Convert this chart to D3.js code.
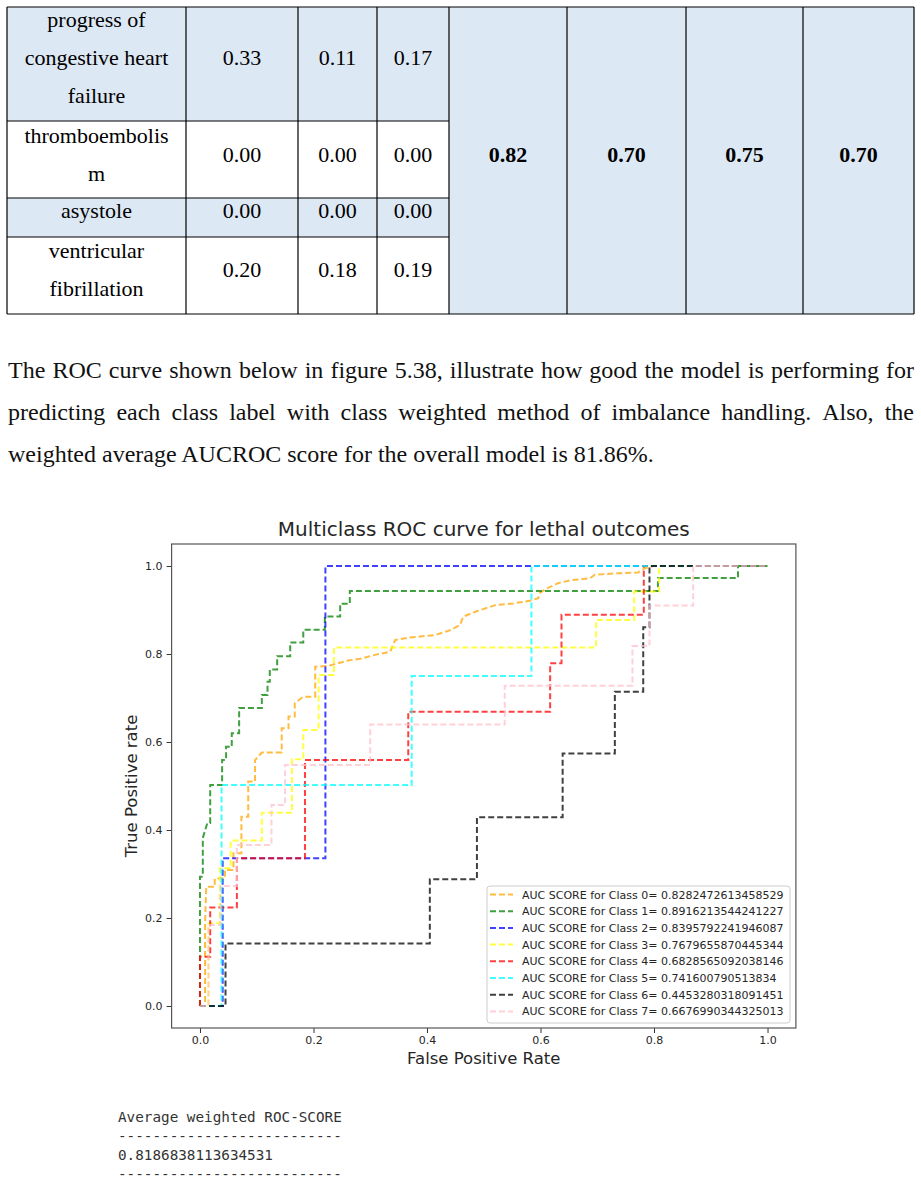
<!DOCTYPE html>
<html lang="en">
<head>
<meta charset="utf-8">
<title>Multiclass ROC curve</title>
<script src="https://cdn.jsdelivr.net/npm/d3@7"></script>
<style>
  body { margin: 0; background: #fff; }
  svg { display: block; }
  .serif { font-family: "Liberation Serif", "Times New Roman", serif; }
  .mpl { font-family: "DejaVu Sans", sans-serif; fill: #262626; }
  .mono { font-family: "DejaVu Sans Mono", "Liberation Mono", monospace; fill: #333; }
</style>
</head>
<body>
<div id="page"></div>
<script>
// ---- table data (per-class precision / recall / f1, then overall scores)
var tableLabels = [["progress of", "congestive heart", "failure"], ["thromboembolis", "m"], ["asystole"], ["ventricular", "fibrillation"]];
var precision = [0.33, 0.00, 0.00, 0.20];
var recall    = [0.11, 0.00, 0.00, 0.18];
var f1score   = [0.17, 0.00, 0.00, 0.19];
var overall   = [0.82, 0.70, 0.75, 0.70];

var paragraph = [
  "The ROC curve shown below in figure 5.38, illustrate how good the model is performing for",
  "predicting each class label with class weighted method of imbalance handling. Also, the",
  "weighted average AUCROC score for the overall model is 81.86%."
];

// ---- ROC data, [fpr, tpr]
var roc0 = [[0,0],[0.009,0],[0.009,0.19],[0.011,0.271],[0.026,0.271],[0.026,0.29],[0.044,0.29],[0.044,0.309],[0.059,0.309],[0.059,0.347],[0.073,0.347],[0.073,0.43],[0.085,0.43],[0.085,0.51],[0.097,0.51],[0.097,0.559],[0.109,0.576],[0.144,0.576],[0.144,0.631],[0.156,0.631],[0.156,0.658],[0.167,0.658],[0.167,0.688],[0.182,0.703],[0.203,0.703],[0.203,0.771],[0.226,0.773],[0.261,0.785],[0.285,0.79],[0.308,0.798],[0.335,0.805],[0.344,0.832],[0.367,0.837],[0.414,0.843],[0.443,0.855],[0.458,0.866],[0.464,0.885],[0.485,0.896],[0.52,0.911],[0.552,0.915],[0.581,0.921],[0.596,0.927],[0.599,0.939],[0.611,0.949],[0.631,0.961],[0.655,0.968],[0.687,0.972],[0.696,0.98],[0.728,0.983],[0.772,0.985],[0.784,0.995],[0.80,1],[1,1]];
var roc1 = [[0,0],[0,0.294],[0.005,0.294],[0.005,0.382],[0.013,0.416],[0.018,0.416],[0.018,0.502],[0.039,0.502],[0.039,0.559],[0.046,0.559],[0.046,0.589],[0.056,0.589],[0.056,0.62],[0.069,0.62],[0.069,0.677],[0.109,0.677],[0.109,0.707],[0.119,0.707],[0.119,0.737],[0.123,0.737],[0.123,0.765],[0.136,0.765],[0.136,0.795],[0.159,0.795],[0.159,0.826],[0.182,0.826],[0.182,0.855],[0.22,0.855],[0.22,0.885],[0.247,0.885],[0.247,0.914],[0.264,0.914],[0.264,0.943],[0.807,0.943],[0.807,0.973],[0.948,0.973],[0.948,1],[1,1]];
var roc2 = [[0,0],[0.04,0],[0.04,0.336],[0.221,0.336],[0.221,1],[1,1]];
var roc3 = [[0,0],[0.015,0],[0.015,0.188],[0.035,0.188],[0.035,0.313],[0.054,0.313],[0.054,0.376],[0.109,0.376],[0.109,0.439],[0.162,0.439],[0.162,0.561],[0.182,0.561],[0.182,0.627],[0.209,0.627],[0.209,0.752],[0.236,0.752],[0.236,0.815],[0.698,0.815],[0.698,0.877],[0.765,0.877],[0.765,0.942],[0.809,0.942],[0.809,1],[1,1]];
var roc4 = [[0,0],[0,0.112],[0.018,0.112],[0.018,0.224],[0.065,0.224],[0.065,0.336],[0.185,0.336],[0.185,0.559],[0.367,0.559],[0.367,0.669],[0.617,0.669],[0.617,0.779],[0.637,0.779],[0.637,0.889],[0.782,0.889],[0.782,1],[1,1]];
var roc5 = [[0,0],[0.038,0],[0.038,0.502],[0.373,0.502],[0.373,0.75],[0.584,0.75],[0.584,1],[1,1]];
var roc6 = [[0,0],[0.045,0],[0.045,0.142],[0.405,0.142],[0.405,0.288],[0.488,0.288],[0.488,0.429],[0.639,0.429],[0.639,0.574],[0.731,0.574],[0.731,0.714],[0.781,0.714],[0.781,0.861],[0.792,0.861],[0.792,1],[1,1]];
var roc7 = [[0,0],[0.015,0],[0.015,0.184],[0.036,0.184],[0.036,0.273],[0.065,0.273],[0.065,0.366],[0.126,0.366],[0.126,0.457],[0.15,0.457],[0.15,0.548],[0.30,0.548],[0.30,0.64],[0.537,0.64],[0.537,0.728],[0.762,0.728],[0.762,0.818],[0.792,0.818],[0.792,0.91],[0.869,0.91],[0.869,1],[1,1]];

var aucScores = [0.8282472613458529, 0.8916213544241227, 0.8395792241946087, 0.7679655870445344,
                 0.6828565092038146, 0.741600790513834, 0.4453280318091451, 0.6676990344325013];
var tickValues = [0, 0.2, 0.4, 0.6, 0.8, 1.0];
var avgScore = "0.8186838113634531";

var curves = [roc0, roc1, roc2, roc3, roc4, roc5, roc6, roc7];
var colors = ["orange", "green", "blue", "yellow", "red", "cyan", "black", "pink"];

var W = 921, H = 1199;
var svg = d3.select("#page").append("svg").attr("width", W).attr("height", H);

// ---------------- table
var colX = [7, 186, 298, 377, 449, 567, 686, 803, 914];
var rowY = [7, 121, 198, 237, 314];
var valueBase = [65, 161.5, 218, 277];
var shade = "#dde8f5";
var tbl = svg.append("g").attr("class", "serif").attr("font-size", 22);

rowY.slice(0, 4).forEach(function(y0, i) {
  tbl.append("rect")
    .attr("x", colX[0]).attr("y", y0)
    .attr("width", colX[4] - colX[0]).attr("height", rowY[i + 1] - y0)
    .attr("fill", i % 2 == 0 ? shade : "#fff");
});
tbl.append("rect")
  .attr("x", colX[4]).attr("y", rowY[0])
  .attr("width", colX[8] - colX[4]).attr("height", rowY[4] - rowY[0])
  .attr("fill", shade);

tableLabels.forEach(function(lines, i) {
  var cx = (colX[0] + colX[1]) / 2;
  lines.forEach(function(t, k) {
    tbl.append("text").attr("x", cx).attr("y", valueBase[i] - (lines.length - 1) * 19 + k * 38)
      .attr("text-anchor", "middle").text(t);
  });
  [precision, recall, f1score].forEach(function(arr, j) {
    tbl.append("text").attr("x", (colX[j + 1] + colX[j + 2]) / 2).attr("y", valueBase[i])
      .attr("text-anchor", "middle").text(arr[i].toFixed(2));
  });
});
overall.forEach(function(v, j) {
  tbl.append("text").attr("x", (colX[j + 4] + colX[j + 5]) / 2).attr("y", 161.5)
    .attr("text-anchor", "middle").attr("font-weight", "bold").text(v.toFixed(2));
});

// grid lines
var gl = tbl.append("g").attr("stroke", "#000").attr("stroke-width", 1.2);
[rowY[0], rowY[4]].forEach(function(y0) {
  gl.append("line").attr("x1", colX[0]).attr("x2", colX[8]).attr("y1", y0).attr("y2", y0);
});
rowY.slice(1, 4).forEach(function(y0) {
  gl.append("line").attr("x1", colX[0]).attr("x2", colX[4]).attr("y1", y0).attr("y2", y0);
});
colX.forEach(function(x0) {
  gl.append("line").attr("x1", x0).attr("x2", x0).attr("y1", rowY[0]).attr("y2", rowY[4]);
});

// ---------------- paragraph (justified)
var para = svg.append("g").attr("class", "serif").attr("font-size", 24).attr("fill", "#111");
var pLeft = 8, pRight = 914;
paragraph.forEach(function(str, i) {
  var yb = 378 + i * 42;
  if (i == paragraph.length - 1) {
    para.append("text").attr("x", pLeft).attr("y", yb).text(str);
    return;
  }
  var words = str.split(" ");
  var nodes = words.map(function(w) { return para.append("text").attr("y", yb).text(w); });
  var widths = nodes.map(function(n) { return n.node().getComputedTextLength(); });
  var gap = (pRight - pLeft - d3.sum(widths)) / (words.length - 1);
  var cx = pLeft;
  nodes.forEach(function(n, k) { n.attr("x", cx); cx += widths[k] + gap; });
});

// ---------------- ROC chart
var x = d3.scaleLinear().domain([-0.05, 1.05]).range([171.6, 795.9]);
var y = d3.scaleLinear().domain([-0.05, 1.05]).range([1028, 544]);

var chart = svg.append("g");

chart.append("g")
  .attr("transform", "translate(0," + y(-0.05) + ")")
  .call(d3.axisBottom(x).tickValues(tickValues).tickFormat(d3.format(".1f")).tickSize(5).tickPadding(3))
  .call(function(g) {
    g.select(".domain").remove();
    g.selectAll("line").attr("stroke", "#333");
    g.selectAll("text").attr("class", "mpl").attr("font-size", 11);
  });
chart.append("g")
  .attr("transform", "translate(" + x(-0.05) + ",0)")
  .call(d3.axisLeft(y).tickValues(tickValues).tickFormat(d3.format(".1f")).tickSize(5).tickPadding(4))
  .call(function(g) {
    g.select(".domain").remove();
    g.selectAll("line").attr("stroke", "#333");
    g.selectAll("text").attr("class", "mpl").attr("font-size", 11);
  });

var line = d3.line().x(function(d) { return x(d[0]); }).y(function(d) { return y(d[1]); });

chart.selectAll(".roc")
  .data(curves)
  .enter().append("path")
  .attr("class", "roc")
  .attr("d", line)
  .attr("fill", "none")
  .attr("stroke", function(d, i) { return colors[i]; })
  .attr("stroke-opacity", 0.75)
  .attr("stroke-width", 2)
  .attr("stroke-dasharray", "6,3");

chart.append("rect")
  .attr("x", x(-0.05)).attr("y", y(1.05))
  .attr("width", x(1.05) - x(-0.05)).attr("height", y(-0.05) - y(1.05))
  .attr("fill", "none").attr("stroke", "#555").attr("stroke-width", 1.2);

chart.append("text").attr("class", "mpl")
  .attr("x", (x(-0.05) + x(1.05)) / 2).attr("y", 536)
  .attr("text-anchor", "middle").attr("font-size", 20)
  .text("Multiclass ROC curve for lethal outcomes");
chart.append("text").attr("class", "mpl")
  .attr("x", (x(-0.05) + x(1.05)) / 2).attr("y", 1064)
  .attr("text-anchor", "middle").attr("font-size", 16.5)
  .text("False Positive Rate");
chart.append("text").attr("class", "mpl")
  .attr("transform", "translate(137," + (y(-0.05) + y(1.05)) / 2 + ") rotate(-90)")
  .attr("text-anchor", "middle").attr("font-size", 16.5)
  .text("True Positive rate");

// legend
var leg = chart.append("g").attr("transform", "translate(487,886)");
leg.append("rect")
  .attr("width", 303).attr("height", 137).attr("rx", 3)
  .attr("fill", "#fff").attr("fill-opacity", 0.8)
  .attr("stroke", "#ccc");
aucScores.forEach(function(s, i) {
  var cy = 8.5 + i * 16.7;
  leg.append("line")
    .attr("x1", 3).attr("x2", 26).attr("y1", cy).attr("y2", cy)
    .attr("stroke", colors[i]).attr("stroke-opacity", 0.75)
    .attr("stroke-width", 2).attr("stroke-dasharray", "6,3");
  leg.append("text").attr("class", "mpl")
    .attr("x", 35).attr("y", cy + 4).attr("font-size", 11)
    .text("AUC SCORE for Class " + i + "= " + s);
});

// ---------------- console output
var out = svg.append("g").attr("class", "mono").attr("font-size", 14.3);
var dashes = "--------------------------";
["Average weighted ROC-SCORE", dashes, avgScore, dashes].forEach(function(t, i) {
  out.append("text").attr("x", 118).attr("y", 1122 + i * 19).text(t);
});
</script>
</body>
</html>
